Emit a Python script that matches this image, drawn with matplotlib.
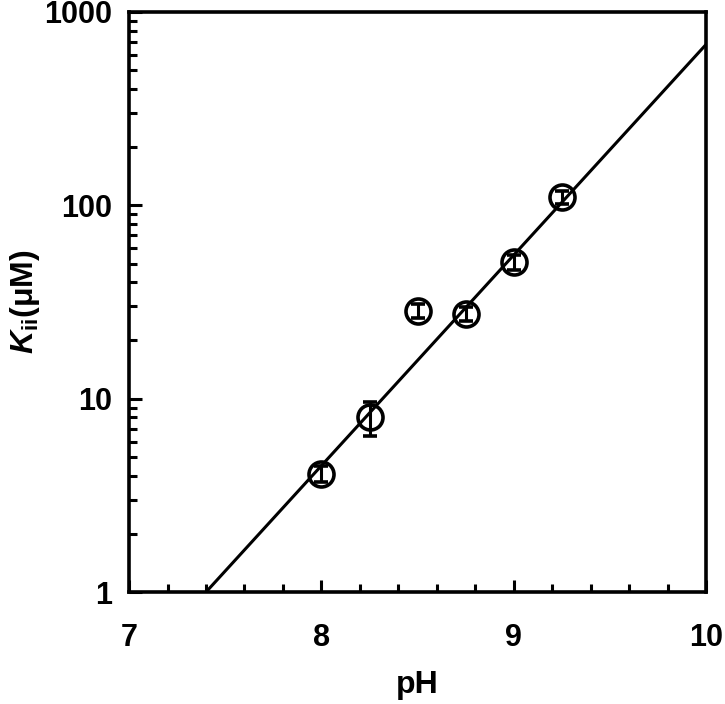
import numpy as np
import matplotlib
matplotlib.use('Agg')
import matplotlib.pyplot as plt
from matplotlib.ticker import MultipleLocator, LogLocator, NullFormatter

# data
ph = [8.0, 8.25, 8.5, 8.75, 9.0, 9.25]
kii = [4.1, 8.0, 28.5, 27.5, 51.0, 110.0]
kii_err = [0.4, 1.6, 2.5, 2.3, 4.5, 8.0]

# fitted line end points
fit_ph = [7.4, 10.0]
fit_k = [1.0, 680.0]

plt.rcParams['font.family'] = ['Liberation Sans', 'DejaVu Sans']
plt.rcParams['font.weight'] = 'bold'
plt.rcParams['mathtext.fontset'] = 'custom'
plt.rcParams['mathtext.it'] = 'Liberation Sans:italic:bold'
plt.rcParams['mathtext.rm'] = 'Liberation Sans:bold'
plt.rcParams['mathtext.bf'] = 'Liberation Sans:bold'

fig = plt.figure(figsize=(7.25, 7.04), dpi=100)
ax = fig.add_axes([0.178, 0.159, 0.796, 0.824])

ax.plot(fit_ph, fit_k, color='black', lw=2.2, zorder=2)
ax.errorbar(ph, kii, yerr=kii_err, fmt='o', mfc='none', mec='black', mew=2.6,
            ms=18, ecolor='black', elinewidth=2.2, capsize=5, capthick=2.2, zorder=3)

ax.set_yscale('log')
ax.set_xlim(7, 10)
ax.set_ylim(1, 1000)
ax.xaxis.set_major_locator(MultipleLocator(1))
ax.xaxis.set_minor_locator(MultipleLocator(0.2))
ax.yaxis.set_major_locator(LogLocator(base=10))
ax.yaxis.set_minor_locator(LogLocator(base=10, subs=np.arange(2, 10)))
ax.yaxis.set_minor_formatter(NullFormatter())
ax.set_yticks([1, 10, 100, 1000])
ax.set_yticklabels(['1', '10', '100', '1000'])

ax.tick_params(which='both', direction='in', width=2.2, top=False, right=False)
ax.tick_params(which='major', length=9)
ax.tick_params(which='minor', length=6)
ax.tick_params(axis='x', which='major', pad=22, labelsize=22)
ax.tick_params(axis='y', which='major', pad=12, labelsize=22)
for lbl in ax.get_xticklabels() + ax.get_yticklabels():
    lbl.set_fontweight('bold')

for s in ax.spines.values():
    s.set_linewidth(2.6)

ax.set_xlabel('pH', fontsize=23, fontweight='bold')
ax.set_ylabel(r'$\mathit{K}_{\mathrm{ii}}\mathrm{(μM)}$', fontsize=23)
ax.xaxis.set_label_coords(0.5, -0.134)
ax.yaxis.set_label_coords(-0.15, 0.5)

fig.savefig('out.png', dpi=100)
